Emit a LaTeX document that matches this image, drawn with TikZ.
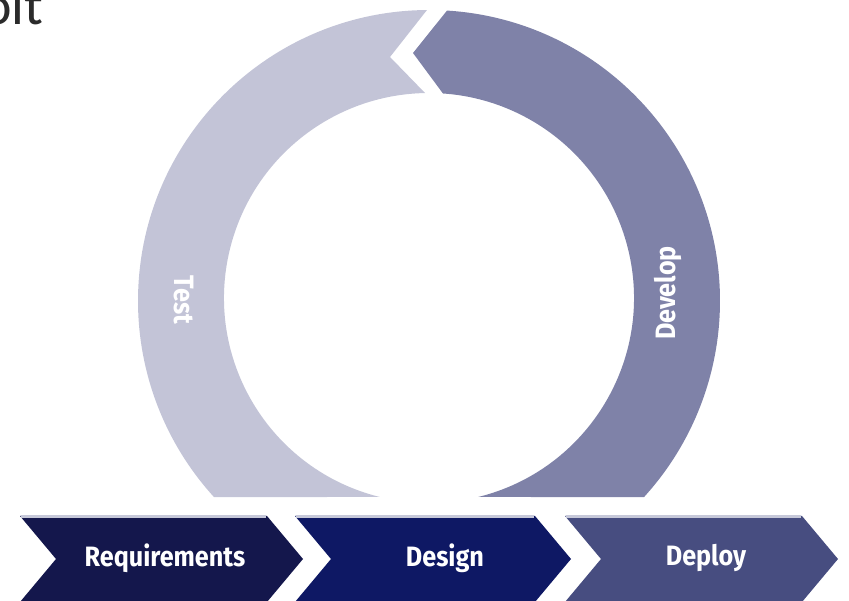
\documentclass[tikz,border=0pt]{standalone}
\usepackage{fontspec}
\setmainfont{Fira Sans}
\newfontfamily\headfont{Carlito}
\newfontfamily\labfont{Fira Sans}[FakeStretch=0.9]
\usetikzlibrary{calc}
\definecolor{testc}{HTML}{C3C4D7}
\definecolor{devc}{HTML}{7F82A8}
\definecolor{reqc}{HTML}{14174C}
\definecolor{desc}{HTML}{0E1864}
\definecolor{depc}{HTML}{474D80}
\definecolor{hilite}{HTML}{C6C8D9}
\definecolor{headc}{HTML}{2B2B2B}
\begin{document}
\begin{tikzpicture}[x=1pt,y=1pt,
  lab/.style={text=white, font=\labfont\bfseries\fontsize{28}{29}\selectfont, inner sep=0pt},
  hl/.style={hilite, line width=3pt}]
\useasboundingbox (0,0) rectangle (849,600);
\clip (0,0) rectangle (849,600);
% centres of the ring
\coordinate (C) at (429,299);
\coordinate (Ci) at (429,302);
% Test piece
\coordinate (To1) at ($(C)+(90.4:291pt)$);
\coordinate (Ti1) at ($(Ci)+(256.1:205pt)$);
\coordinate (Tv) at (390,543);
\fill[testc] (To1) arc[start angle=90.4, end angle=222.35, radius=291pt]
  -- (Ti1) arc[start angle=256.1, end angle=91.1, radius=205pt] -- (Tv) -- cycle;
% Develop piece
\coordinate (Dp) at (413,547);
\coordinate (Do1) at ($(C)+(86.45:291pt)$);
\coordinate (Di1) at ($(Ci)+(-76.1:205pt)$);
\fill[devc] (Dp) -- (Do1) arc[start angle=86.45, end angle=-42.35, radius=291pt]
  -- (Di1) arc[start angle=-76.1, end angle=86.1, radius=205pt] -- cycle;
\node[lab, rotate=-90] (test) at (184,300) {Test};
\node[lab, rotate=90] (develop) at (668,307) {Develop};
% chevrons
\fill[reqc] (20,84) -- (267,84) -- (303,41) -- (267,-2) -- (20,-2) -- (56,41) -- cycle;
\draw[hl] (21,83) -- (266,83);
\fill[desc] (295,84) -- (535,84) -- (571,41) -- (535,-2) -- (295,-2) -- (331,41) -- cycle;
\draw[hl] (296,83) -- (534,83);
\fill[depc] (565,84) -- (802,84) -- (838,41) -- (802,-2) -- (565,-2) -- (601,41) -- cycle;
\draw[hl] (566,83) -- (801,83);
\node[lab] (req) at (165,42) {Requirements};
\node[lab] (design) at (445,42) {Design};
\node[lab] (deploy) at (706,42) {Deploy};
% clipped heading
\node[anchor=base west, inner sep=0pt, text=headc, font=\headfont\fontsize{56}{58}\selectfont] (head) at (-18,575) {oit};
\end{tikzpicture}
\end{document}
